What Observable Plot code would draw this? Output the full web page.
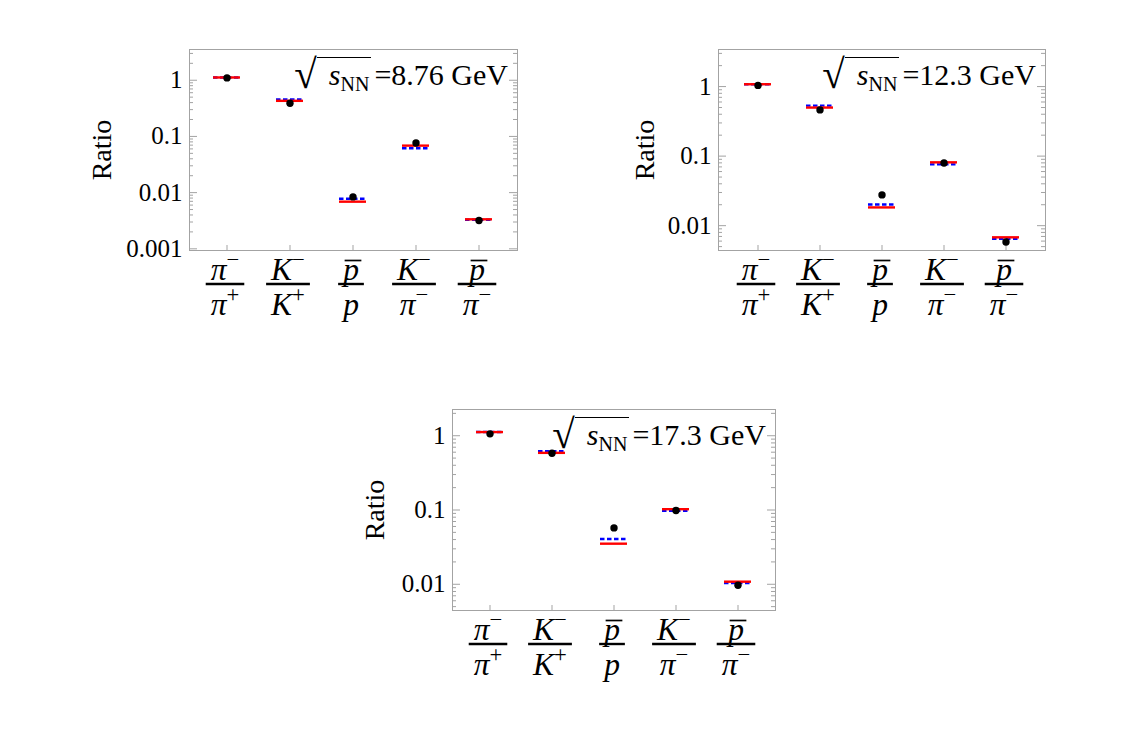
<!DOCTYPE html>
<html><head><meta charset="utf-8">
<script src="https://cdn.jsdelivr.net/npm/d3@7"></script>
<script src="https://cdn.jsdelivr.net/npm/@observablehq/plot@0.6"></script>
<style>
body{margin:0;background:#fff}
#page{position:relative;width:1146px;height:731px;overflow:hidden;background:#fff}
.panel{position:absolute}
.title{position:absolute;font-family:"Liberation Serif","Times New Roman",serif;font-size:30px;line-height:30px;white-space:nowrap;color:#000}
.title .rad{font-size:41px;line-height:0;position:relative;top:3px}
.title .ol{border-top:1.5px solid #000;padding-left:12px;padding-right:2px}
.title .sub{font-size:20px;line-height:0;position:relative;top:6px}
.title .rest{padding-left:3px}
</style></head><body><div id="page"></div>
<script>
// ---- data ----
const categories = ["pi-/pi+", "K-/K+", "pbar/p", "K-/pi-", "pbar/pi-"];
const numerators = ["π⁻", "K⁻", "p", "K⁻", "p"];
const numeratorBar = [false, false, true, false, true];
const denominators = ["π⁺", "K⁺", "p", "π⁻", "π⁻"];
const energies = ["8.76", "12.3", "17.3"];

const data_876 = [1.10, 0.39, 0.0084, 0.0764, 0.0032];
const red_876  = [1.12, 0.43, 0.0069, 0.0686, 0.00335];
const blue_876 = [1.12, 0.457, 0.0078, 0.0615, 0.0033];

const data_123 = [1.04, 0.462, 0.0277, 0.0798, 0.00582];
const red_123  = [1.08, 0.499, 0.0183, 0.0814, 0.0068];
const blue_123 = [1.08, 0.533, 0.0202, 0.0762, 0.00645];

const data_173 = [1.06, 0.58, 0.0574, 0.0985, 0.0097];
const red_173  = [1.12, 0.588, 0.0352, 0.1026, 0.01084];
const blue_173 = [1.12, 0.62, 0.0407, 0.0975, 0.0104];

const yTicks_876 = [1, 0.1, 0.01, 0.001];
const yTickLabels_876 = ["1", "0.1", "0.01", "0.001"];
const yTicks_123 = [1, 0.1, 0.01];
const yTickLabels_123 = ["1", "0.1", "0.01"];
const yTicks_173 = [1, 0.1, 0.01];
const yTickLabels_173 = ["1", "0.1", "0.01"];

// ---- drawing ----
const FONT = '"Liberation Serif","Times New Roman",serif';
const FRAME = "#a3a3a3";
const SUP = 0.72;
const cv = document.createElement("canvas").getContext("2d");
function textWidth(t, size, italic) {
  cv.font = `${italic ? "italic " : ""}${size}px ${FONT}`;
  const m = t.match(/^(.*)([⁻⁺])$/);
  if (m) {
    const base = cv.measureText(m[1]).width;
    cv.font = `${size * SUP}px ${FONT}`;
    return base + cv.measureText(m[2] === "⁻" ? "−" : "+").width;
  }
  return cv.measureText(t).width;
}
function hbar(half) {
  return {draw(c) { c.moveTo(-half, 0); c.lineTo(half, 0); }};
}
function fixSuperscripts(svg) {
  svg.querySelectorAll("text").forEach(t => {
    if (t.children.length) return;
    const m = (t.textContent || "").match(/^(.*)([⁻⁺])$/);
    if (!m) return;
    t.textContent = m[1];
    const ts = document.createElementNS("http://www.w3.org/2000/svg", "tspan");
    ts.setAttribute("font-size", (SUP * 100) + "%");
    ts.setAttribute("font-style", "normal");
    ts.setAttribute("dy", "-0.55em");
    ts.textContent = m[2] === "⁻" ? "−" : "+";
    t.appendChild(ts);
  });
}

function panel(cfg) {
  const {frame, domain, dots, red, blue, ticks, tickLabels, energy, ratioDx} = cfg;
  const [fl, ft, fr, fb] = frame;
  const mL = 130, mR = 12, mT = 10, mB = 80;
  const W = fr - fl, H = fb - ft;
  const rows = categories.map((c, i) => ({
    cat: c, dot: dots[i], red: red[i], blue: blue[i],
    num: numerators[i], den: denominators[i], over: numeratorBar[i]
  }));
  const lo = Math.floor(Math.log10(domain[0])), hi = Math.ceil(Math.log10(domain[1]));
  const majors = [], minors = [];
  for (let k = lo; k <= hi; k++) {
    const b = Math.pow(10, k);
    if (b >= domain[0] && b <= domain[1]) majors.push(b);
    for (let m = 2; m <= 9; m++) { const v = m * b; if (v >= domain[0] && v <= domain[1]) minors.push(v); }
  }
  const FS = 31.5;
  const fracMarks = [];
  rows.forEach(r => {
    const w = Math.max(textWidth(r.num, FS, true), textWidth(r.den, FS, true)) + 10;
    fracMarks.push(Plot.dot([r], {x: "cat", frameAnchor: "bottom", dy: 33.5, dx: -2, r: 1,
      symbol: hbar(w / 2), stroke: "black", strokeWidth: 2.4, fill: "none"}));
    if (r.over) {
      const wp = textWidth("p", FS, true) + 1;
      fracMarks.push(Plot.dot([r], {x: "cat", frameAnchor: "bottom", dy: 10, dx: 0, r: 1,
        symbol: hbar(wp / 2), stroke: "black", strokeWidth: 1.7, fill: "none"}));
    }
  });
  const svg = Plot.plot({
    width: W + mL + mR, height: H + mT + mB,
    marginLeft: mL, marginRight: mR, marginTop: mT, marginBottom: mB,
    style: {background: "transparent", fontFamily: FONT, overflow: "visible"},
    x: {type: "band", domain: categories, paddingInner: 0.57, paddingOuter: 0.385, axis: null},
    y: {type: "log", domain, axis: null},
    marks: [
      Plot.frame({stroke: FRAME}),
      Plot.ruleY(majors, {stroke: FRAME, insetRight: W - 8}),
      Plot.ruleY(minors, {stroke: FRAME, insetRight: W - 4}),
      Plot.ruleY(majors, {stroke: FRAME, insetLeft: W - 8}),
      Plot.ruleY(minors, {stroke: FRAME, insetLeft: W - 4}),
      Plot.ruleX(categories, {stroke: FRAME, insetTop: H - 5}),
      Plot.text(ticks, {y: d => d, text: (d, i) => tickLabels[i], frameAnchor: "left",
        textAnchor: "end", dx: -7, lineAnchor: "middle", fontSize: 25}),
      Plot.text(["Ratio"], {frameAnchor: "left", dx: ratioDx, rotate: -90,
        textAnchor: "middle", lineAnchor: "bottom", fontSize: 28}),
      Plot.tickY(rows, {x: "cat", y: "blue", stroke: "#0000ff", strokeWidth: 2.4, strokeDasharray: "4.5,2.5"}),
      Plot.tickY(rows, {x: "cat", y: "red", stroke: "#ff0000", strokeWidth: 2.4}),
      Plot.dot(rows, {x: "cat", y: "dot", r: 3.7, fill: "black", stroke: "none"}),
      Plot.text(rows, {x: "cat", text: "num", frameAnchor: "bottom", dy: 29, dx: -2,
        lineAnchor: "bottom", fontSize: FS, fontStyle: "italic"}),
      Plot.text(rows, {x: "cat", text: "den", frameAnchor: "bottom", dy: 64, dx: -2,
        lineAnchor: "bottom", fontSize: FS, fontStyle: "italic"}),
      ...fracMarks
    ]
  });
  fixSuperscripts(svg);
  const div = document.createElement("div");
  div.className = "panel";
  div.style.left = (fl - mL) + "px";
  div.style.top = (ft - mT) + "px";
  div.appendChild(svg);
  const page = document.getElementById("page");
  page.appendChild(div);
  const t = document.createElement("div");
  t.className = "title";
  t.style.right = (1146 - (fr - 9)) + "px";
  t.style.top = (ft + 11) + "px";
  t.innerHTML = `<span class="rad">√</span><span class="ol"><i>s</i><span class="sub">NN</span></span><span class="rest">=${energy} GeV</span>`;
  page.appendChild(t);
}

panel({frame: [189, 49, 517, 250], domain: [Math.pow(10, -3.03), Math.pow(10, 0.547)],
  dots: data_876, red: red_876, blue: blue_876, ticks: yTicks_876, tickLabels: yTickLabels_876,
  energy: energies[0], ratioDx: -79});
panel({frame: [718, 49, 1045, 250], domain: [Math.pow(10, -2.357), Math.pow(10, 0.533)],
  dots: data_123, red: red_123, blue: blue_123, ticks: yTicks_123, tickLabels: yTickLabels_123,
  energy: energies[1], ratioDx: -65});
panel({frame: [452, 409, 775, 610], domain: [Math.pow(10, -2.353), Math.pow(10, 0.353)],
  dots: data_173, red: red_173, blue: blue_173, ticks: yTicks_173, tickLabels: yTickLabels_173,
  energy: energies[2], ratioDx: -69});
</script></body></html>
